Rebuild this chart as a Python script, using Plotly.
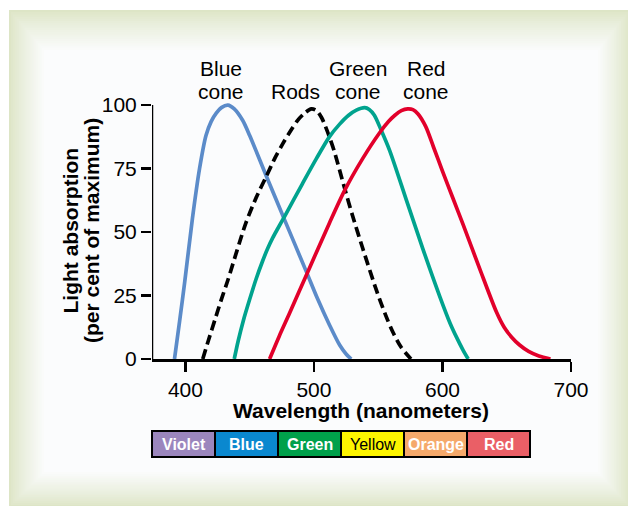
import plotly.graph_objects as go

# ---------------- data ----------------
blue_x = [391.5, 395.5, 399.5, 405.5, 411, 416, 420, 424, 428, 433, 438, 444.5, 450, 463, 477, 494, 503, 512, 520, 525, 529]
blue_y = [0, 15, 30.5, 55.5, 75, 88, 93.5, 96.8, 99, 100, 98.5, 94, 88, 72, 55, 34.5, 23.5, 13.5, 5.5, 2, 0]

rods_x = [413.5, 418, 423, 428, 433, 440, 447, 455, 463, 470, 476, 482, 487, 492, 498, 502, 506, 509, 512, 516, 524, 530, 538, 549, 556, 561, 568, 575.5]
rods_y = [0, 7.5, 15.5, 23.5, 31, 42.5, 53.5, 63.5, 72, 79.5, 85, 90, 93.8, 96.5, 98.5, 97.8, 95, 91.5, 87.5, 81.5, 67, 56.5, 43.5, 26.5, 17, 11, 4.5, 0]

green_x = [438, 441, 445, 450, 455, 460, 464, 468, 472, 477, 491, 502, 512, 520, 527, 533, 539.5, 543, 547, 552, 559, 572, 585, 598, 606, 611, 616, 620]
green_y = [0, 7, 15, 23.5, 31.5, 38.5, 43.5, 47.8, 51.5, 56, 69, 79, 87.5, 92.5, 96, 98, 99, 98.3, 96, 90.5, 82, 62.5, 43, 24.5, 14, 8.5, 3.5, 0]

red_x = [465.5, 473, 481, 494.5, 512, 524, 538, 551, 558, 563, 568, 573, 577, 581, 587, 593, 600, 608, 616, 629, 642, 648, 654, 660, 667, 675, 684]
red_y = [0, 9, 18, 33.5, 53.5, 66.5, 79, 89, 93.5, 96, 97.8, 98.5, 98.2, 96.5, 91.5, 83.5, 74, 63.5, 53, 35.5, 18.5, 12.5, 8.5, 5.5, 3, 1.2, 0]

curve_labels = [["Blue", "cone"], ["Rods"], ["Green", "cone"], ["Red", "cone"]]
label_x = [428, 485.5, 534.5, 587.5]

x_ticks = [400, 500, 600, 700]
y_ticks = [0, 25, 50, 75, 100]

spectrum_names = ["Violet", "Blue", "Green", "Yellow", "Orange", "Red"]
spectrum_colors = ["#9b86bd", "#0a88cf", "#00a04b", "#fdf500", "#f5a96b", "#ea5f66"]
spectrum_text = ["white", "white", "white", "black", "white", "white"]

# ---------------- geometry helpers ----------------
W, H = 628, 506
L, R, T, B = 152, 57, 100, 147
PW, PH = W - L - R, H - T - B
FONT = "Liberation Sans, Arial, sans-serif"


def px(x):
    return (x - L) / PW


def py(y):
    return (H - B - y) / PH


fig = go.Figure()

styles = [
    dict(color="#5b8bc9", width=3.7),
    dict(color="black", width=3.7, dash="10px,5px"),
    dict(color="#00a38e", width=3.7),
    dict(color="#e2002b", width=3.7),
]
for (xs, ys), st in zip([(blue_x, blue_y), (rods_x, rods_y), (green_x, green_y), (red_x, red_y)], styles):
    fig.add_trace(go.Scatter(x=xs, y=ys, mode="lines",
                             line=dict(shape="spline", smoothing=0.8, **st),
                             showlegend=False, hoverinfo="skip"))

shapes = []
# gradient frame
edge = (221, 229, 198)
white = (251, 252, 253)
N = 18
for i in range(N + 1):
    t = i / N
    e = t ** 0.85
    c = tuple(round(edge[k] + (white[k] - edge[k]) * e) for k in range(3))
    x0 = 9 + t * 35
    y0 = 10 + t * 40
    x1 = 630 - t * 32
    y1 = 507 - t * 35
    shapes.append(dict(type="rect", xref="paper", yref="paper", layer="below",
                       x0=px(x0), x1=px(x1), y0=py(y1), y1=py(y0),
                       fillcolor="rgb(%d,%d,%d)" % c, line=dict(width=0)))

# y axis line
shapes.append(dict(type="line", xref="x", yref="y", x0=374, x1=374, y0=0, y1=100,
                   line=dict(color="black", width=2.5)))

annotations = []
# spectrum bar
bx0, bw, by0, by1 = 152, 63, 431, 457
for i, (nm, col, tc) in enumerate(zip(spectrum_names, spectrum_colors, spectrum_text)):
    a = bx0 + i * bw
    shapes.append(dict(type="rect", xref="paper", yref="paper",
                       x0=px(a), x1=px(a + bw), y0=py(by1), y1=py(by0),
                       fillcolor=col, line=dict(color="black", width=2)))
    annotations.append(dict(xref="paper", yref="paper", x=px(a + bw / 2), y=py((by0 + by1) / 2),
                            text=("<b>%s</b>" % nm) if tc == "white" else nm,
                            showarrow=False, xanchor="center", yanchor="middle",
                            font=dict(family=FONT, size=16, color=tc)))

# curve labels
for lines, lx in zip(curve_labels, label_x):
    n = len(lines)
    for j, s in enumerate(lines):
        ypix = 91 - (n - 1 - j) * 23
        annotations.append(dict(xref="x", yref="paper", x=lx, y=py(ypix), text=s,
                                showarrow=False, xanchor="center", yanchor="middle",
                                font=dict(family=FONT, size=21, color="black")))

# axis titles
annotations.append(dict(xref="paper", yref="paper", x=px(361), y=py(410),
                        text="<b>Wavelength (nanometers)</b>", showarrow=False,
                        xanchor="center", yanchor="middle",
                        font=dict(family=FONT, size=21, color="black")))
for s, xp in [("Light absorption", 69.5), ("(per cent of maximum)", 91)]:
    annotations.append(dict(xref="paper", yref="paper", x=px(xp), y=py(231),
                            text="<b>%s</b>" % s, showarrow=False, textangle=-90,
                            xanchor="center", yanchor="middle",
                            font=dict(family=FONT, size=21, color="black")))

fig.update_layout(
    width=W, height=H, autosize=False,
    margin=dict(l=L, r=R, t=T, b=B, pad=0),
    paper_bgcolor="white", plot_bgcolor="rgba(0,0,0,0)",
    shapes=shapes, annotations=annotations, showlegend=False,
    xaxis=dict(range=[374, 700], tickvals=x_ticks, ticks="outside", ticklen=10, tickwidth=2.5,
               tickcolor="black", showline=True, linewidth=2.5, linecolor="black",
               showgrid=False, zeroline=False,
               tickfont=dict(family=FONT, size=21, color="black")),
    yaxis=dict(range=[0, 102], tickvals=y_ticks, ticks="outside", ticklen=10, tickwidth=2.5,
               tickcolor="black", showline=False, showgrid=False, zeroline=False,
               tickfont=dict(family=FONT, size=21, color="black")),
)

fig.write_html("out.html", config={"displayModeBar": False, "staticPlot": True},
               post_script="document.body.style.margin='0';document.body.style.padding='0';document.body.style.overflow='hidden';")
